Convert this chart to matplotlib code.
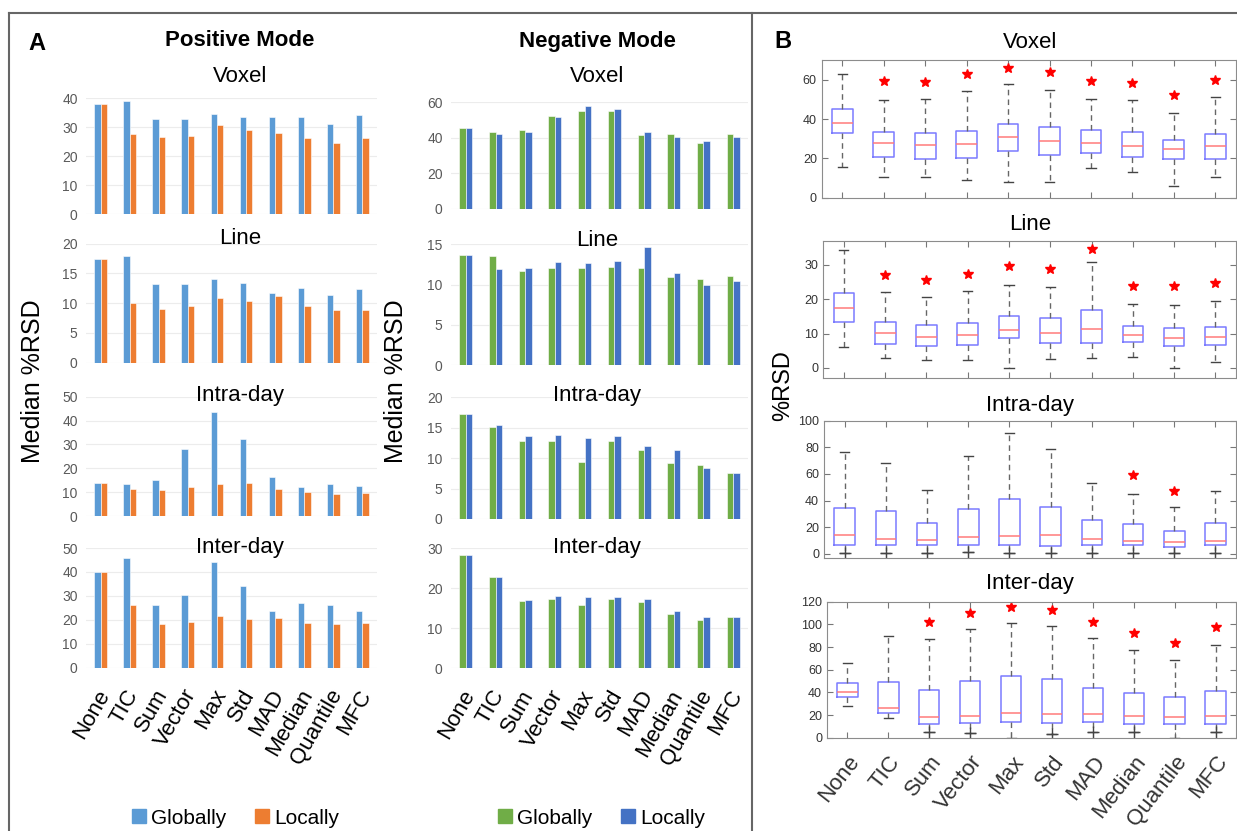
import matplotlib.pyplot as plt
import matplotlib.transforms as mtransforms
import numpy as np
from matplotlib.lines import Line2D

plt.rcParams['font.family'] = ['Liberation Sans', 'DejaVu Sans']

W, H = 1237, 831

methods = ['None', 'TIC', 'Sum', 'Vector', 'Max', 'Std', 'MAD', 'Median', 'Quantile', 'MFC']
datasets = ['Voxel', 'Line', 'Intra-day', 'Inter-day']

# ---- panel A: median %RSD, positive mode
pos_voxel_glob = [37.9, 38.9, 33.0, 32.9, 34.5, 33.6, 33.7, 33.4, 31.3, 34.1]
pos_voxel_loc = [37.9, 27.7, 26.7, 27.1, 30.8, 29.1, 28.0, 26.4, 24.6, 26.3]
pos_line_glob = [17.4, 17.9, 13.3, 13.3, 14.1, 13.4, 11.7, 12.6, 11.4, 12.4]
pos_line_loc = [17.4, 10.1, 9.0, 9.6, 10.9, 10.3, 11.2, 9.6, 8.8, 8.8]
pos_intra_glob = [13.7, 13.5, 15.2, 27.9, 43.4, 32.3, 16.3, 12.2, 13.3, 12.6]
pos_intra_loc = [13.7, 11.2, 10.8, 12.3, 13.4, 13.8, 11.5, 9.9, 9.4, 9.8]
pos_inter_glob = [40.1, 45.7, 26.2, 30.4, 44.0, 34.1, 23.5, 27.0, 26.0, 23.8]
pos_inter_loc = [40.1, 26.2, 18.4, 19.0, 21.4, 20.5, 20.6, 18.7, 18.1, 18.5]

# ---- panel A: median %RSD, negative mode
neg_voxel_glob = [45.4, 43.3, 44.4, 52.5, 55.3, 55.3, 41.8, 42.2, 37.3, 42.0]
neg_voxel_loc = [45.4, 42.2, 43.5, 52.0, 58.0, 56.5, 43.5, 40.7, 38.3, 40.3]
neg_line_glob = [13.7, 13.6, 11.7, 12.1, 12.0, 12.2, 12.0, 10.95, 10.7, 11.1]
neg_line_loc = [13.7, 11.9, 12.0, 12.8, 12.7, 12.9, 14.7, 11.5, 9.9, 10.5]
neg_intra_glob = [17.3, 15.1, 12.9, 12.8, 9.3, 12.8, 11.3, 9.2, 8.8, 7.6]
neg_intra_loc = [17.3, 15.5, 13.6, 13.75, 13.3, 13.6, 12.0, 11.4, 8.3, 7.6]
neg_inter_glob = [28.3, 22.9, 16.75, 17.25, 15.8, 17.3, 16.7, 13.7, 12.2, 12.75]
neg_inter_loc = [28.3, 22.9, 17.0, 18.0, 17.9, 17.9, 17.4, 14.25, 12.8, 12.75]

pos_ylims = [40, 20, 50, 50]
neg_ylims = [60, 15, 20, 30]
pos_ticks = [10, 5, 10, 10]
neg_ticks = [20, 5, 5, 10]

# ---- panel B: box plot summaries
nan = np.nan
voxel_lo = [15.5, 10.6, 10.3, 8.8, 8.1, 7.8, 15.3, 13.3, 6.1, 10.3]
voxel_q1 = [32.7, 20.9, 19.6, 20.1, 23.9, 21.6, 22.9, 20.9, 19.6, 19.6]
voxel_med = [37.9, 27.8, 26.6, 27.2, 30.9, 29.0, 28.0, 26.3, 24.8, 26.1]
voxel_q3 = [45.0, 33.4, 32.9, 34.1, 37.6, 35.8, 34.4, 33.4, 29.5, 32.4]
voxel_hi = [62.9, 49.7, 50.3, 54.3, 58.0, 54.8, 50.3, 49.6, 43.2, 51.3]
voxel_star = [nan, 59.5, 58.9, 62.7, 66.1, 63.9, 59.5, 58.3, 52.3, 60.0]
voxel_plus = [nan] * 10

line_lo = [6.0, 3.0, 2.4, 2.4, 0.0, 2.5, 3.0, 3.3, 0.0, 1.7]
line_q1 = [13.5, 7.1, 6.5, 6.7, 8.6, 7.4, 7.4, 7.5, 6.3, 6.75]
line_med = [17.45, 10.2, 9.0, 9.6, 10.9, 10.2, 11.2, 9.5, 8.8, 9.0]
line_q3 = [21.9, 13.3, 12.4, 13.2, 15.2, 14.4, 17.0, 12.2, 11.5, 12.0]
line_hi = [34.3, 22.1, 20.5, 22.3, 24.1, 23.4, 30.8, 18.5, 18.3, 19.6]
line_star = [nan, 27.0, 25.7, 27.4, 29.6, 28.8, 34.5, 23.8, 23.8, 24.7]
line_plus = [nan] * 10

intra_lo = [0.5, 0.5, 0.5, 1.5, 0.5, 0.5, 0.5, 0.5, 0.5, 0.5]
intra_q1 = [6.5, 7.0, 6.75, 6.75, 6.5, 6.0, 6.5, 6.5, 5.5, 6.5]
intra_med = [14.0, 11.25, 10.75, 12.5, 13.5, 14.0, 11.5, 10.0, 9.25, 9.75]
intra_q3 = [34.25, 32.0, 23.5, 33.5, 41.5, 35.0, 25.5, 22.25, 17.5, 23.5]
intra_hi = [76.25, 68.0, 47.75, 73.5, 91.0, 78.5, 53.25, 45.25, 35.0, 47.5]
intra_star = [nan, nan, nan, nan, nan, nan, nan, 59.0, 47.25, nan]
intra_plus = [0.5, 0.5, 0.5, 1.5, 0.5, 0.5, 0.5, 0.5, 0.5, 0.5]

inter_lo = [27.6, 17.4, 5.0, 4.4, 0.0, 3.5, 4.7, 4.7, 0.0, 5.3]
inter_q1 = [35.6, 22.1, 12.1, 12.9, 14.1, 13.2, 13.8, 11.8, 12.1, 11.8]
inter_med = [40.3, 26.5, 18.5, 19.1, 21.8, 20.6, 20.9, 19.1, 18.5, 19.1]
inter_q3 = [48.2, 49.4, 41.8, 49.7, 54.7, 51.5, 43.8, 39.4, 35.9, 41.5]
inter_hi = [65.9, 90.0, 86.8, 96.2, 101.5, 98.5, 88.0, 77.4, 68.5, 82.0]
inter_star = [nan, nan, 102.0, 110.3, 115.6, 112.4, 102.0, 92.0, 83.5, 97.6]
inter_plus = [nan, nan, 5.0, 4.4, nan, 3.5, 4.7, 4.7, nan, 5.3]


def rect(left, top, right, bottom):
    return [left / W, 1 - bottom / H, (right - left) / W, (bottom - top) / H]


def ftext(x, y, s, **kw):
    fig.text(x / W, 1 - y / H, s, ha='center', va='center', **kw)


def shift_labels(ax, dx_px):
    off = mtransforms.ScaledTranslation(dx_px / 100, 0, fig.dpi_scale_trans)
    for lab in ax.get_xticklabels():
        lab.set_transform(lab.get_transform() + off)


fig = plt.figure(figsize=(W / 100, H / 100), dpi=100)

# frame and divider
for xs, ys in [([9, 1237], [13, 13]), ([9, 9], [13, 831]), ([752, 752], [13, 831])]:
    fig.add_artist(Line2D([x / W for x in xs], [1 - y / H for y in ys],
                          transform=fig.transFigure, color='#666666', lw=1.5))

# ---------------- panel A
pos_glob = [pos_voxel_glob, pos_line_glob, pos_intra_glob, pos_inter_glob]
pos_loc = [pos_voxel_loc, pos_line_loc, pos_intra_loc, pos_inter_loc]
neg_glob = [neg_voxel_glob, neg_line_glob, neg_intra_glob, neg_inter_glob]
neg_loc = [neg_voxel_loc, neg_line_loc, neg_intra_loc, neg_inter_loc]

pos_rows = [(98.3, 214.3), (243.7, 362.7), (396.7, 516), (548, 667.7)]
neg_rows = [(102.3, 209), (244.3, 365.3), (397.3, 519), (548.3, 668.3)]
pos_title_y = [77, 239, 395, 547]
neg_title_y = [77, 240, 395, 547]

x = np.arange(len(methods))
bw = 0.22
columns = [
    (86, 377, pos_rows, pos_glob, pos_loc, pos_ylims, pos_ticks, '#5B9BD5', '#ED7D31', 240, pos_title_y),
    (451, 748, neg_rows, neg_glob, neg_loc, neg_ylims, neg_ticks, '#70AD47', '#4472C4', 597, neg_title_y),
]
for left, right, rows, glob, loc, ylims, steps, c1, c2, cx, ty in columns:
    for i, (top, bottom) in enumerate(rows):
        ax = fig.add_axes(rect(left, top, right, bottom))
        ax.bar(x - bw / 2, glob[i], bw, color=c1, edgecolor='white', lw=0.4)
        ax.bar(x + bw / 2, loc[i], bw, color=c2, edgecolor='white', lw=0.4)
        ax.set_xlim(-0.5, 9.5)
        ax.set_ylim(0, ylims[i])
        ax.set_yticks(np.arange(0, ylims[i] + 0.1, steps[i]))
        ax.yaxis.grid(True, color='#ececec', lw=0.8)
        ax.set_axisbelow(True)
        for s in ax.spines.values():
            s.set_visible(False)
        ax.tick_params(length=0, labelsize=10, labelcolor='#595959', pad=6)
        ax.set_xticks(x)
        if i == 3:
            ax.set_xticklabels(methods, rotation=60, ha='right', rotation_mode='anchor',
                               fontsize=16, color='black')
            ax.tick_params(axis='x', pad=13)
            shift_labels(ax, -5)
        else:
            ax.set_xticklabels([])
        ftext(cx, ty[i], datasets[i], fontsize=16)

ftext(37, 43, 'A', fontsize=17, fontweight='bold')
ftext(240, 41, 'Positive Mode', fontsize=16, fontweight='bold')
ftext(597, 41, 'Negative Mode', fontsize=16, fontweight='bold')
ftext(33, 381, 'Median %RSD', fontsize=18, rotation=90)
ftext(396, 381, 'Median %RSD', fontsize=18, rotation=90)

for cx, c1, c2 in [(234, '#5B9BD5', '#ED7D31'), (600, '#70AD47', '#4472C4')]:
    handles = [Line2D([], [], ls='none', marker='s', ms=10, color=c1),
               Line2D([], [], ls='none', marker='s', ms=10, color=c2)]
    fig.legend(handles, ['Globally', 'Locally'], loc='center', ncol=2,
               bbox_to_anchor=(cx / W, 1 - 818 / H), frameon=False, fontsize=15,
               handletextpad=0.1, columnspacing=1.2, handlelength=1.0)

# ---------------- panel B
box_sets = [
    (voxel_lo, voxel_q1, voxel_med, voxel_q3, voxel_hi, voxel_star, voxel_plus),
    (line_lo, line_q1, line_med, line_q3, line_hi, line_star, line_plus),
    (intra_lo, intra_q1, intra_med, intra_q3, intra_hi, intra_star, intra_plus),
    (inter_lo, inter_q1, inter_med, inter_q3, inter_hi, inter_star, inter_plus),
]
b_rows = [(821.7, 60, 197.7), (823.3, 240.7, 378.3), (824, 420.7, 558.3), (827, 601.7, 737.7)]
b_ylims = [(0, 70), (-3, 37), (-3.3, 100), (0, 120)]
b_yticks = [np.arange(0, 61, 20), np.arange(0, 31, 10), np.arange(0, 101, 20), np.arange(0, 121, 20)]
b_title_y = [42, 224, 405, 583]

pos = np.arange(1, 11)
for i, (lo, q1, med, q3, hi, star, plus) in enumerate(box_sets):
    left, top, bottom = b_rows[i]
    ax = fig.add_axes(rect(left, top, 1236, bottom))
    stats = [dict(whislo=lo[k], q1=q1[k], med=med[k], q3=q3[k], whishi=hi[k], fliers=[])
             for k in range(len(methods))]
    ax.bxp(stats, positions=pos, widths=0.5, showfliers=False, capwidths=0.22,
           boxprops=dict(color='#7b7bff', lw=1.1),
           medianprops=dict(color='#ff7a7a', lw=1.1),
           whiskerprops=dict(color='#666666', lw=1, ls=(0, (4, 3))),
           capprops=dict(color='#444444', lw=1))
    ax.plot(pos, plus, ls='none', marker='+', color='#444444', ms=8, mew=1)
    ax.plot(pos, star, ls='none', marker='*', color='red', ms=7)
    ax.set_xlim(0.5, 10.5)
    ax.set_ylim(*b_ylims[i])
    ax.set_yticks(b_yticks[i])
    for s in ax.spines.values():
        s.set_color('#8c8c8c')
    ax.tick_params(direction='in', top=True, right=True, length=4, color='#777777',
                   labelsize=9, labelcolor='#333333')
    ax.set_xticks(pos)
    if i == 3:
        ax.set_xticklabels(methods, rotation=52, ha='right', rotation_mode='anchor', fontsize=16)
        ax.tick_params(axis='x', pad=10)
    else:
        ax.set_xticklabels([])
    ftext(1030, b_title_y[i], datasets[i], fontsize=16)

ftext(783, 42, 'B', fontsize=17, fontweight='bold')
ftext(783, 386, '%RSD', fontsize=17, rotation=90)

fig.savefig('out.png', dpi=100)
